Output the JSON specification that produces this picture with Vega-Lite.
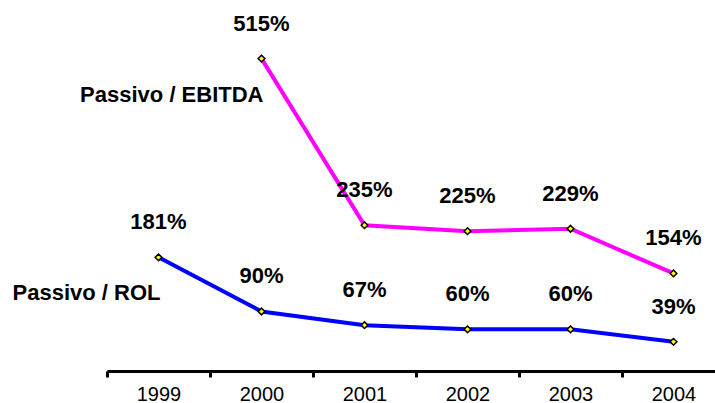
{
  "$schema": "https://vega.github.io/schema/vega-lite/v6.json",
  "width": 608,
  "height": 363,
  "autosize": {"type": "none"},
  "padding": {"left": 107, "top": 8, "right": 0, "bottom": 32},
  "background": "white",
  "config": {"view": {"stroke": null}, "font": "Liberation Sans"},
  "datasets": {
    "points": [
      {"year": "1999", "series": "ROL", "value": 1.81},
      {"year": "2000", "series": "ROL", "value": 0.90},
      {"year": "2001", "series": "ROL", "value": 0.67},
      {"year": "2002", "series": "ROL", "value": 0.60},
      {"year": "2003", "series": "ROL", "value": 0.60},
      {"year": "2004", "series": "ROL", "value": 0.39},
      {"year": "2000", "series": "EBITDA", "value": 5.15},
      {"year": "2001", "series": "EBITDA", "value": 2.35},
      {"year": "2002", "series": "EBITDA", "value": 2.25},
      {"year": "2003", "series": "EBITDA", "value": 2.29},
      {"year": "2004", "series": "EBITDA", "value": 1.54}
    ],
    "names": [
      {"year": "2000", "value": 4.42, "name": "Passivo / EBITDA"},
      {"year": "1999", "value": 1.09, "name": "Passivo / ROL"}
    ]
  },
  "encoding": {
    "x": {
      "field": "year",
      "type": "ordinal",
      "sort": ["1999", "2000", "2001", "2002", "2003", "2004"],
      "scale": {"type": "band", "domain": ["1999", "2000", "2001", "2002", "2003", "2004"], "range": [0, 618], "paddingInner": 0, "paddingOuter": 0},
      "axis": {
        "title": null,
        "labelAngle": 0,
        "domainColor": "black",
        "domainWidth": 3,
        "tickColor": "black",
        "tickWidth": 3,
        "tickSize": 6,
        "tickBand": "extent",
        "labelFontSize": 20,
        "labelColor": "black",
        "labelPadding": 7,
        "grid": false
      }
    },
    "y": {
      "field": "value",
      "type": "quantitative",
      "scale": {"domain": [-0.1, 6.0], "nice": false, "zero": false},
      "axis": null
    }
  },
  "layer": [
    {
      "data": {"name": "points"},
      "mark": {"type": "line", "strokeWidth": 4},
      "encoding": {
        "color": {
          "field": "series",
          "type": "nominal",
          "scale": {"domain": ["EBITDA", "ROL"], "range": ["#FF00FF", "#0000FF"]},
          "legend": null
        }
      }
    },
    {
      "data": {"name": "points"},
      "mark": {"type": "point", "shape": "diamond", "filled": true, "fill": "#FFFF00", "stroke": "black", "strokeWidth": 1.5, "size": 45, "opacity": 1}
    },
    {
      "data": {"name": "points"},
      "mark": {"type": "text", "fontSize": 22, "fontWeight": "bold", "color": "black", "baseline": "alphabetic", "align": "center", "dy": -28},
      "encoding": {
        "text": {"field": "value", "type": "quantitative", "format": ".0%"}
      }
    },
    {
      "data": {"name": "names"},
      "mark": {"type": "text", "fontSize": 22, "fontWeight": "bold", "color": "black", "baseline": "alphabetic", "align": "right", "dx": 2},
      "encoding": {
        "text": {"field": "name", "type": "nominal"}
      }
    }
  ]
}
